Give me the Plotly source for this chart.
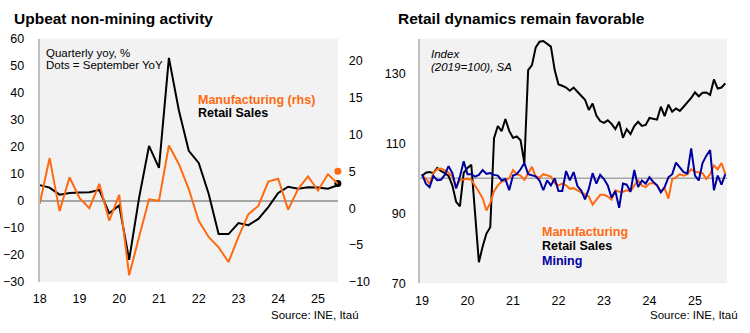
import plotly.graph_objects as go

# ---------------- Left chart data (quarterly, 1Q18 - 3Q25) ----------------
quarters = [f"{y}Q{q}" for y in range(2018, 2026) for q in range(1, 5)][:31]
retail_q = [5.8, 4.9, 2.3, 2.9, 3.1, 3.2, 4.0, -4.6, -1.7, -21.8, 1.1, 20.3,
            12.2, 52.9, 33.5, 18.5, 14.0, 2.6, -12.3, -12.3, -8.2, -9.0, -6.7,
            -2.3, 2.9, 5.2, 4.5, 5.0, 4.9, 4.5, 5.8]
manuf_q = [0.6, 6.8, -0.4, 4.2, 1.4, 0.0, 3.3, -1.7, 1.8, -9.1, -3.9, 1.2,
           1.0, 8.5, 6.0, 2.6, -1.7, -3.9, -5.3, -7.3, -3.9, -0.8, 0.3, 3.6,
           4.0, -0.2, 2.6, 4.3, 2.4, 4.6, 3.3]
sept_retail = [6.4]
sept_manuf = [5.0]
left_ticks = ["18", "19", "20", "21", "22", "23", "24", "25"]

# ---------------- Right chart data (monthly, Jan-19 - Sep-25) ----------------
months = [f"{y}-{m:02d}" for y in range(2019, 2026) for m in range(1, 13)][:81]
retail_m = [100.7, 101.6, 101.8, 101.5, 103.0, 102.1, 101.5, 100.7, 98.0, 93.3,
            92.0, 101.6, 103.0, 103.9, 90.0, 76.0, 80.5, 84.2, 86.0, 111.5,
            115.0, 113.5, 117.0, 113.6, 111.6, 112.0, 110.9, 104.4, 131.0, 132.4,
            137.5, 139.1, 139.3, 138.6, 137.7, 131.0, 126.9, 126.5, 126.0, 125.1,
            126.0, 124.8, 123.5, 122.5, 119.6, 121.4, 118.0, 116.4, 115.9, 116.6,
            115.6, 114.1, 116.2, 111.6, 114.1, 112.7, 115.0, 116.2, 115.0, 115.3,
            117.3, 117.0, 116.8, 120.5, 117.8, 121.1, 119.1, 120.0, 119.3, 120.5,
            121.7, 123.0, 124.6, 123.5, 124.5, 124.6, 123.9, 128.3, 125.7, 126.0,
            127.2]
manuf_m = [100.7, 99.9, 98.5, 101.5, 102.6, 102.8, 102.3, 101.6, 100.5, 97.5,
           99.5, 99.8, 99.9, 99.6, 98.0, 96.2, 94.3, 90.8, 93.0, 96.3,
           98.0, 99.1, 99.4, 100.0, 102.4, 101.2, 100.8, 99.6, 101.5, 103.3,
           100.5, 100.2, 101.2, 100.9, 100.5, 98.6, 98.0, 98.5, 98.0, 97.0,
           97.2, 96.6, 96.0, 95.4, 94.8, 92.5, 93.9, 95.3, 95.3, 94.8,
           93.9, 96.6, 96.2, 96.2, 96.6, 96.3, 98.0, 99.4, 98.0, 97.5,
           98.5, 98.7, 98.0, 96.2, 97.2, 94.2, 99.8, 100.3, 101.2, 100.8,
           101.2, 102.6, 101.9, 101.7, 101.5, 99.8, 101.2, 103.7, 102.6, 104.4,
           101.2]
mining_m = [101.2, 98.5, 97.5, 100.7, 99.5, 99.6, 101.0, 103.5, 101.5, 97.1,
            100.5, 104.9, 101.2, 101.2, 100.5, 101.0, 102.4, 101.3, 101.5, 101.0,
            100.8, 99.4, 99.8, 96.6, 100.8, 101.2, 102.6, 104.4, 101.2, 100.8,
            100.6, 99.4, 96.6, 99.4, 98.0, 100.0, 96.4, 96.4, 102.1, 99.4,
            101.8, 97.8, 96.5, 94.0, 97.0, 101.5, 98.5, 101.0, 99.8, 98.0,
            94.5, 96.4, 91.6, 98.5, 98.2, 96.2, 102.4, 97.5, 99.4, 98.5,
            100.3, 99.0, 98.0, 96.0, 97.5, 100.3, 101.2, 104.5, 103.3, 101.8,
            101.4, 108.6, 100.8, 99.4, 104.4, 106.5, 108.1, 96.6, 100.8, 98.2,
            101.2]
right_ticks = ["19", "20", "21", "22", "23", "24", "25"]

ORANGE = "#FF6A10"
BLUE = "#0000A0"
BLACK = "#000000"
FONT = "Liberation Sans, Arial, sans-serif"

fig = go.Figure()

# Left chart
fig.add_trace(go.Scatter(x=quarters, y=retail_q, mode="lines", xaxis="x", yaxis="y",
                         line=dict(color=BLACK, width=2), showlegend=False))
fig.add_trace(go.Scatter(x=quarters, y=manuf_q, mode="lines", xaxis="x", yaxis="y2",
                         line=dict(color=ORANGE, width=2), showlegend=False))
fig.add_trace(go.Scatter(x=[quarters[-1]], y=sept_retail, mode="markers", xaxis="x", yaxis="y",
                         marker=dict(color=BLACK, size=7), cliponaxis=False, showlegend=False))
fig.add_trace(go.Scatter(x=[quarters[-1]], y=sept_manuf, mode="markers", xaxis="x", yaxis="y2",
                         marker=dict(color=ORANGE, size=7), cliponaxis=False, showlegend=False))

# Right chart
fig.add_trace(go.Scatter(x=months, y=retail_m, mode="lines", xaxis="x2", yaxis="y3",
                         line=dict(color=BLACK, width=2), showlegend=False))
fig.add_trace(go.Scatter(x=months, y=manuf_m, mode="lines", xaxis="x2", yaxis="y3",
                         line=dict(color=ORANGE, width=2), showlegend=False))
fig.add_trace(go.Scatter(x=months, y=mining_m, mode="lines", xaxis="x2", yaxis="y3",
                         line=dict(color=BLUE, width=2), showlegend=False))

tickfont = dict(family=FONT, size=12.5, color="#000000")
AXCOL = "#BFBFBF"

fig.update_layout(
    width=750, height=333,
    margin=dict(l=0, r=0, t=0, b=0),
    paper_bgcolor="white",
    plot_bgcolor="#F2F2F2",
    font=dict(family=FONT, size=12, color="#000000"),
    xaxis=dict(domain=[0.044, 0.4453], type="category", anchor="y",
               range=[0, 30], tickvals=[quarters[i] for i in range(0, 31, 4)],
               ticktext=left_ticks, showgrid=False, zeroline=False, showline=False,
               ticks="", tickfont=tickfont, ticklabelstandoff=8),
    yaxis=dict(domain=[0.1381, 0.9009], range=[-30, 60], dtick=10, anchor="x",
               showgrid=False, zeroline=True, zerolinecolor="#A6A6A6", zerolinewidth=1.5,
               showline=True, linecolor=AXCOL, linewidth=2, ticks="",
               tickfont=tickfont, ticklabelstandoff=11),
    yaxis2=dict(overlaying="y", side="right", anchor="x", range=[-10, 23],
                tickvals=[-10, -5, 0, 5, 10, 15, 20], showgrid=False, zeroline=False,
                showline=False, ticks="", tickfont=tickfont, ticklabelstandoff=10),
    xaxis2=dict(domain=[0.556, 0.9693], type="category", anchor="y3",
                range=[-0.5, 80.5], tickvals=[months[i] for i in range(0, 81, 12)],
                ticktext=right_ticks, showgrid=False, zeroline=False, showline=False,
                ticks="", tickfont=tickfont, ticklabelstandoff=8),
    yaxis3=dict(domain=[0.1342, 0.9009], range=[70, 140], tickvals=[70, 90, 110, 130],
                anchor="x2", showgrid=False, zeroline=False, showline=True,
                linecolor=AXCOL, linewidth=2, ticks="", tickfont=tickfont,
                ticklabelstandoff=10),
    shapes=[dict(type="line", xref="x2 domain", yref="y3", x0=0, x1=1, y0=100, y1=100,
                 line=dict(color="#A6A6A6", width=1.5), layer="below")],
)

def ann(text, x, y, size=12, color="#000000", xanchor="left", bold=False, italic=False):
    if bold:
        text = f"<b>{text}</b>"
    if italic:
        text = f"<i>{text}</i>"
    fig.add_annotation(text=text, x=x / 750, y=1 - y / 333, xref="paper", yref="paper",
                       xanchor=xanchor, yanchor="middle", showarrow=False,
                       font=dict(family=FONT, size=size, color=color))

# Titles
ann("Upbeat non-mining activity", 5, 12, size=15.5, bold=True)
ann("Retail dynamics remain favorable", 393, 12, size=15.5, bold=True)

# Left annotations
ann("Quarterly yoy, %", 37, 48, size=11.5)
ann("Dots = September YoY", 37, 61, size=11.5)
ann("Manufacturing (rhs)", 191, 97, size=12.5, color=ORANGE, bold=True)
ann("Retail Sales", 191, 111, size=12.5, bold=True)
ann("Source: INE, Itaú", 357, 321, size=11.5, xanchor="right")

# Right annotations
ann("Index", 426, 49, size=11.5, italic=True)
ann("(2019=100), SA", 426, 63, size=11.5, italic=True)
ann("Manufacturing", 538, 235, size=12.5, color=ORANGE, bold=True)
ann("Retail Sales", 538, 250, size=12.5, bold=True)
ann("Mining", 538, 265, size=12.5, color=BLUE, bold=True)
ann("Source: INE, Itaú", 740, 321, size=11.5, xanchor="right")

fig.write_html("out.html")
